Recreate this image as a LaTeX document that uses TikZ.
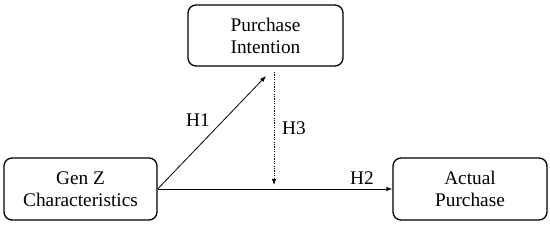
\documentclass[tikz,border=0pt]{standalone}
\usepackage{fontspec}
\setmainfont{Liberation Serif}
\usetikzlibrary{arrows.meta}
\begin{document}
\begin{tikzpicture}[x=1pt,y=-1pt,
  box/.style={draw=black, line width=1.3pt, rounded corners=8pt, align=center,
    inner sep=0pt, font=\fontsize{19.3}{22}\selectfont},
  conn/.style={line width=0.8pt, -{Latex[length=6pt,width=4.5pt]}},
  lab/.style={font=\fontsize{19.3}{22}\selectfont, inner sep=0pt}]
\useasboundingbox (0,0) rectangle (550,225);
\node[box, minimum width=153pt, minimum height=62pt] (gz) at (80.5,189) {Gen Z\\Characteristics};
\node[box, minimum width=155pt, minimum height=61pt] (pi) at (265.5,35.5) {Purchase\\Intention};
\node[box, minimum width=154pt, minimum height=62pt] (ap) at (470,189) {Actual\\Purchase};
\coordinate (h1end) at (266,76);
\coordinate (h3s) at (274,72);
\coordinate (h3e) at (274,185);
\draw[conn] (gz.east) -- (h1end);
\draw[conn] (gz.east) -- (ap.west);
\draw[conn, dash pattern=on 1.2pt off 1.2pt] (h3s) -- (h3e);
\node[lab] (l1) at (198,120) {H1};
\node[lab] (l3) at (294,128) {H3};
\node[lab] (l2) at (362,178) {H2};
\end{tikzpicture}
\end{document}
